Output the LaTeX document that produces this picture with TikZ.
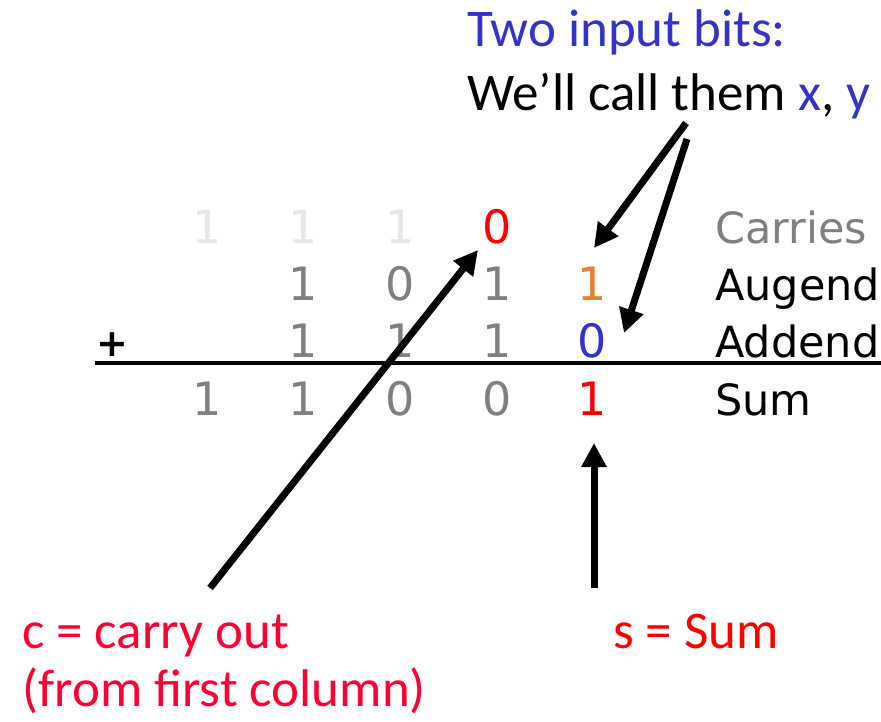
\documentclass[tikz,border=0pt]{standalone}
\usepackage{fontspec}
\setmainfont{Carlito}
\newfontfamily\comicish{DejaVu Sans}
\usetikzlibrary{arrows.meta}
\definecolor{inblue}{RGB}{51,51,204}
\definecolor{cred}{RGB}{255,0,51}
\definecolor{sred}{RGB}{255,0,0}
\definecolor{dgrey}{RGB}{127,127,127}
\definecolor{lgrey}{RGB}{230,230,230}
\definecolor{aorange}{RGB}{237,125,49}
\tikzset{
  calib/.style={inner sep=0pt, anchor=base west, font=\fontsize{53}{63}\selectfont},
  dig/.style={inner sep=0pt, anchor=base, font=\comicish\fontsize{46}{52}\selectfont, text=dgrey},
  lbl/.style={inner sep=0pt, anchor=base west, font=\comicish\fontsize{43}{50}\selectfont},
  bigarrow/.style={line width=7pt, -{Triangle[length=24pt,width=24pt]}},
}
\begin{document}
\begin{tikzpicture}[x=1pt,y=-1pt]
\useasboundingbox (0,0) rectangle (881,721);
% top labels
\node[calib, text=inblue] (two) at (467,46) {Two input bits:};
\node[calib] (call) at (467,110) {We’ll call them \textcolor{inblue}{x}, \textcolor{inblue}{y}};
% sum line and plus
\draw[line width=4.5pt] (95,363) coordinate (lineL) -- (881,363) coordinate (lineR);
\node[inner sep=0pt, font=\comicish\bfseries\fontsize{38}{40}\selectfont] (plus) at (112,345) {+};
% carries row
\node[dig, text=lgrey] (c1) at (207,243) {1};
\node[dig, text=lgrey] (c2) at (303,243) {1};
\node[dig, text=lgrey] (c3) at (400,243) {1};
\node[dig, text=sred] (c4) at (497,243) {0};
% augend row
\node[dig] (a2) at (303,300) {1};
\node[dig] (a3) at (400,300) {0};
\node[dig] (a4) at (497,300) {1};
\node[dig, text=aorange] (a5) at (592,300) {1};
% addend row
\node[dig] (b2) at (303,357) {1};
\node[dig] (b3) at (400,357) {1};
\node[dig] (b4) at (497,357) {1};
\node[dig, text=inblue] (b5) at (592,357) {0};
% sum row
\node[dig] (s1) at (207,415) {1};
\node[dig] (s2) at (303,415) {1};
\node[dig] (s3) at (400,415) {0};
\node[dig] (s4) at (497,415) {0};
\node[dig, text=sred] (s5) at (592,415) {1};
% row labels
\node[lbl, text=dgrey] (lc) at (715,243) {Carries};
\node[lbl] (la) at (715,300) {Augend};
\node[lbl] (lb) at (715,357) {Addend};
\node[lbl] (ls) at (715,415) {Sum};
% bottom labels
\node[calib, text=cred] (cout) at (22,648) {c = carry out};
\node[calib, text=cred] (cout2) at (22,706) {(from first column)};
\node[calib, text=sred] (ssum) at (613,648) {s = Sum};
% arrow end points
\coordinate (xyA) at (686,123);
\coordinate (xyB) at (687,139);
\coordinate (tipA) at (594,248);
\coordinate (tipB) at (624,333);
\coordinate (cStart) at (210,588);
\coordinate (cTip) at (478,250);
\coordinate (sStart) at (594,588);
\coordinate (sTip) at (594,443);
% arrows
\draw[bigarrow] (xyA) -- (tipA);
\draw[bigarrow] (xyB) -- (tipB);
\draw[bigarrow] (cStart) -- (cTip);
\draw[bigarrow] (sStart) -- (sTip);
\end{tikzpicture}
\end{document}
